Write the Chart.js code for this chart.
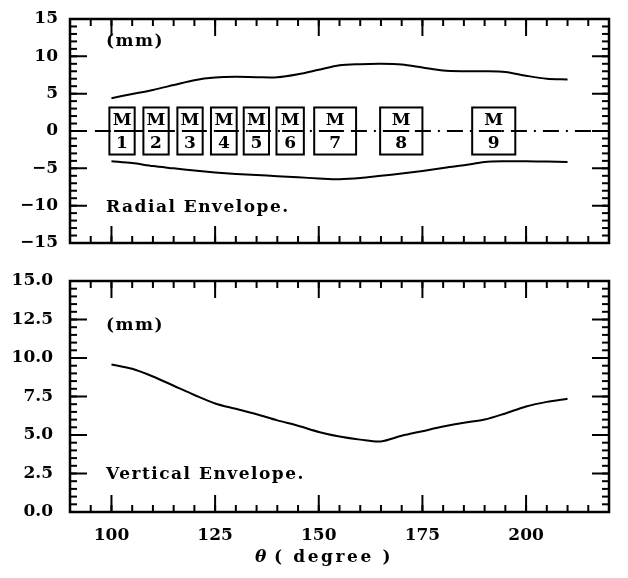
<!DOCTYPE html>
<html>
<head>
<meta charset="utf-8">
<script src="https://cdn.jsdelivr.net/npm/chart.js@4/dist/chart.umd.min.js"></script>
<style>
  html, body { margin: 0; padding: 0; background: #fff; }
  #wrap { position: relative; width: 628px; height: 578px; }
  #topBox { position: absolute; left: 0; top: 0; width: 628px; height: 262px; }
  #botBox { position: absolute; left: 0; top: 262px; width: 628px; height: 316px; }
</style>
</head>
<body>
<div id="wrap">
  <div id="topBox"><canvas id="chartRadial"></canvas></div>
  <div id="botBox"><canvas id="chartVertical"></canvas></div>
</div>
<script>
// envelope data, theta in degrees, envelope in mm
const theta = [100, 105, 110, 115, 120, 125, 130, 135, 140, 145, 150, 155,
  160, 165, 170, 175, 180, 185, 190, 195, 200, 205, 210];
const radialUpper = [4.4, 4.95, 5.5, 6.15, 6.8, 7.15, 7.25, 7.2, 7.2, 7.6, 8.2, 8.8,
  8.95, 9.0, 8.9, 8.5, 8.1, 8.0, 8.0, 7.9, 7.4, 7.0, 6.9];
const radialLower = [-4.05, -4.3, -4.7, -5.0, -5.3, -5.55, -5.75, -5.9, -6.05, -6.2, -6.35, -6.45,
  -6.3, -6.0, -5.7, -5.35, -4.95, -4.6, -4.15, -4.05, -4.05, -4.1, -4.15];
const vertical = [9.58, 9.3, 8.8, 8.2, 7.6, 7.05, 6.7, 6.35, 5.95, 5.6, 5.2, 4.9,
  4.7, 4.58, 4.95, 5.25, 5.55, 5.8, 6.0, 6.4, 6.85, 7.15, 7.35];

// magnets along the orbit (theta range of each box)
const magnetNames = ['1', '2', '3', '4', '5', '6', '7', '8', '9'];
const magnetStart = [99.5, 107.7, 115.9, 124.0, 131.9, 139.8, 148.9, 164.8, 187.0];
const magnetEnd = [105.6, 113.8, 122.0, 130.2, 138.0, 146.4, 159.0, 175.0, 197.4];
const magnetHalfHeight = 3.15;
const axisLine = [96, 220];

// tick labels
const thetaTicks = [100, 125, 150, 175, 200];
const radialTicks = [-15, -10, -5, 0, 5, 10, 15];
const verticalTicks = [0, 2.5, 5, 7.5, 10, 12.5, 15];
const THETA_MIN = 90;
const THETA_MAX = 220;

const FONT = '"DejaVu Serif", serif';
const tickFont = { family: FONT, size: 17, weight: 'bold' };

const toPoints = (xs, ys) => xs.map((x, i) => ({ x: x, y: ys[i] }));
const setTicks = (values) => (scale) => { scale.ticks = values.map(v => ({ value: v })); };
const noOverhang = (s) => { s.paddingTop = 0; s.paddingBottom = 0; s.paddingLeft = 0; s.paddingRight = 0; };

const steps = (lo, hi, step) => {
  const out = [];
  for (let k = Math.ceil(lo / step - 1e-9); k * step <= hi + 1e-9; k++) out.push(k * step);
  return out;
};

// inward tick marks as clipped 'line' points sitting on the four edges
function tickSet(points, len, rotation) {
  return {
    data: points,
    showLine: false,
    clip: 0,
    pointStyle: 'line',
    pointRadius: len,
    pointRotation: rotation,
    pointBorderColor: '#000',
    pointBorderWidth: 2
  };
}
function edgeTicks(yMin, yMax, yMinor, yMajor) {
  const onX = (vals) => vals.flatMap(v => [{ x: v, y: yMin }, { x: v, y: yMax }]);
  const onY = (vals) => vals.flatMap(v => [{ x: THETA_MIN, y: v }, { x: THETA_MAX, y: v }]);
  return [
    tickSet(onX(steps(THETA_MIN, THETA_MAX, 5)), 7, 90),
    tickSet(onX(thetaTicks), 17, 90),
    tickSet(onY(steps(yMin, yMax, yMinor)), 7, 0),
    tickSet(onY(yMajor), 17, 0)
  ];
}

function drawFrame(chart) {
  const ctx = chart.ctx;
  const a = chart.chartArea;
  ctx.save();
  ctx.strokeStyle = '#000';
  ctx.lineWidth = 2.5;
  ctx.strokeRect(a.left, a.top, a.right - a.left, a.bottom - a.top);
  ctx.restore();
}

const drawText = (ctx, text, x, y, size, spacing) => {
  ctx.font = 'bold ' + size + 'px ' + FONT;
  ctx.letterSpacing = (spacing || 0) + 'px';
  ctx.fillText(text, x, y);
  ctx.letterSpacing = '0px';
};

const radialNotes = {
  id: 'radialNotes',
  afterDatasetsDraw(chart) {
    drawFrame(chart);
    const { ctx, chartArea: a } = chart;
    const x = chart.scales.x;
    const y = chart.scales.y;
    ctx.save();
    ctx.fillStyle = '#000';
    ctx.strokeStyle = '#000';
    ctx.textBaseline = 'middle';
    ctx.textAlign = 'left';
    drawText(ctx, '(mm)', a.left + 36, a.top + 23, 17, 1.5);
    drawText(ctx, 'Radial Envelope.', a.left + 36, a.bottom - 35, 17, 1.5);
    ctx.textAlign = 'center';
    magnetNames.forEach((name, i) => {
      const l = x.getPixelForValue(magnetStart[i]);
      const r = x.getPixelForValue(magnetEnd[i]);
      const t = y.getPixelForValue(magnetHalfHeight);
      const b = y.getPixelForValue(-magnetHalfHeight);
      const c = (l + r) / 2;
      ctx.lineWidth = 2;
      ctx.strokeRect(l, t, r - l, b - t);
      const mid = y.getPixelForValue(0);
      ctx.beginPath();
      ctx.moveTo(c - 8, mid); ctx.lineTo(c + 8, mid);
      ctx.stroke();
      drawText(ctx, 'M', c, mid - 10, 17);
      drawText(ctx, name, c, mid + 13, 17);
    });
    ctx.restore();
  }
};

const verticalNotes = {
  id: 'verticalNotes',
  afterDatasetsDraw(chart) {
    drawFrame(chart);
    const { ctx, chartArea: a } = chart;
    ctx.save();
    ctx.fillStyle = '#000';
    ctx.textBaseline = 'middle';
    ctx.textAlign = 'left';
    drawText(ctx, '(mm)', a.left + 36, a.top + 45, 17, 1.5);
    drawText(ctx, 'Vertical Envelope.', a.left + 36, a.bottom - 37, 17, 1.5);
    // axis title
    const ty = a.bottom + 46;
    ctx.font = 'italic bold 17px ' + FONT;
    ctx.fillText('\u03b8', 255, ty);
    drawText(ctx, '( degree )', 274, ty, 17, 2.6);
    ctx.restore();
  }
};

const commonOptions = {
  responsive: true,
  maintainAspectRatio: false,
  animation: false,
  plugins: { legend: { display: false }, tooltip: { enabled: false } },
  elements: { point: { radius: 0 }, line: { borderColor: '#000', borderWidth: 2, tension: 0.3 } }
};

new Chart(document.getElementById('chartRadial').getContext('2d'), {
  type: 'line',
  data: {
    datasets: [
      { data: toPoints(theta, radialUpper) },
      { data: toPoints(theta, radialLower) },
      {
        data: toPoints(axisLine, [0, 0]),
        borderWidth: 1.8,
        borderDash: [16, 7, 2, 7],
        tension: 0
      }
    ].concat(edgeTicks(-15, 15, 1, radialTicks))
  },
  options: Object.assign({}, commonOptions, {
    layout: { padding: { top: 14, bottom: 14, left: 0, right: 2 } },
    scales: {
      x: { type: 'linear', min: THETA_MIN, max: THETA_MAX, display: false },
      y: {
        type: 'linear', min: -15, max: 15,
        afterBuildTicks: setTicks(radialTicks),
        afterFit: (s) => { s.width = 70; noOverhang(s); },
        grid: { display: false, drawTicks: false },
        border: { display: false },
        ticks: {
          padding: 12, color: '#000', font: tickFont,
          callback: (v) => (v < 0 ? '\u2212' + Math.abs(v) : String(v))
        }
      }
    }
  }),
  plugins: [radialNotes]
});

new Chart(document.getElementById('chartVertical').getContext('2d'), {
  type: 'line',
  data: {
    datasets: [{ data: toPoints(theta, vertical) }].concat(edgeTicks(0, 15, 0.5, verticalTicks))
  },
  options: Object.assign({}, commonOptions, {
    layout: { padding: { top: 12, bottom: 0, left: 0, right: 2 } },
    scales: {
      x: {
        type: 'linear', min: THETA_MIN, max: THETA_MAX,
        afterBuildTicks: setTicks(thetaTicks),
        afterFit: (s) => { s.height = 66; noOverhang(s); },
        grid: { display: false, drawTicks: false },
        border: { display: false },
        ticks: { padding: 13, color: '#000', font: tickFont, maxRotation: 0, callback: (v) => String(v) }
      },
      y: {
        type: 'linear', min: 0, max: 15,
        afterBuildTicks: setTicks(verticalTicks),
        afterFit: (s) => { s.width = 70; noOverhang(s); },
        grid: { display: false, drawTicks: false },
        border: { display: false },
        ticks: { padding: 17, color: '#000', font: tickFont, callback: (v) => v.toFixed(1) }
      }
    }
  }),
  plugins: [verticalNotes]
});
</script>
</body>
</html>
